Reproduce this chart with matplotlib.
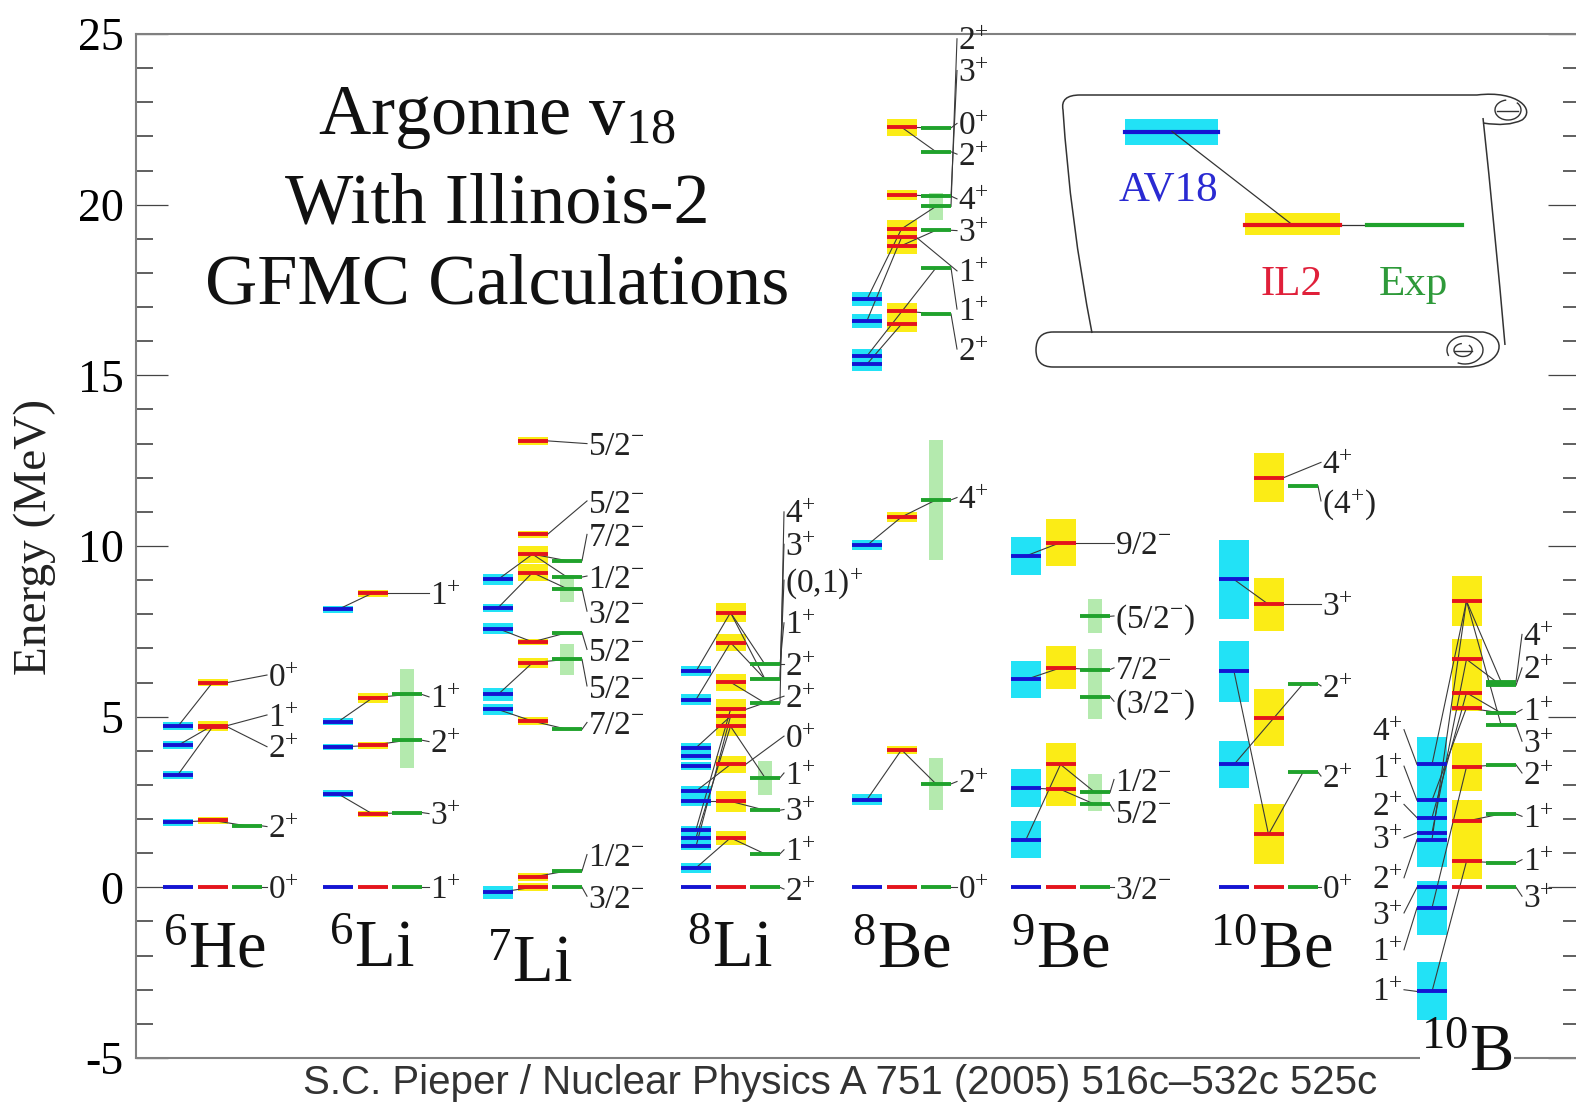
import numpy as np
import matplotlib.pyplot as plt
from matplotlib.patches import Rectangle, PathPatch, Arc
from matplotlib.path import Path
from matplotlib.ticker import MultipleLocator

plt.rcParams['font.family'] = ['Liberation Serif', 'DejaVu Serif']
plt.rcParams['mathtext.fontset'] = 'custom'
plt.rcParams['mathtext.rm'] = 'Liberation Serif'
plt.rcParams['mathtext.it'] = 'Liberation Serif:italic'
plt.rcParams['mathtext.bf'] = 'Liberation Serif:bold'
plt.rcParams['axes.unicode_minus'] = False

# ---------------- data (MeV) ----------------
# a = AV18, i = IL2, e = experiment
he6_av = [0.0, 1.91, 3.30, 4.16, 4.72]
he6_av_err = [0.0, 0.10, 0.12, 0.12, 0.12]
he6_il = [0.0, 1.96, 4.70, 4.74, 6.00]
he6_il_err = [0.0, 0.10, 0.12, 0.12, 0.10]
he6_exp = [0.0, 1.80]
he6_exp_w = [0.0, 0.0]
he6_links = [("a", 1, "i", 1), ("i", 1, "e", 1), ("a", 2, "i", 2), ("a", 3, "i", 3), ("a", 4, "i", 4)]
he6_lab = ["0$^{+}$", "1$^{+}$", "2$^{+}$", "2$^{+}$", "0$^{+}$"]
he6_lab_y = [6.22, 5.05, 4.12, 1.78, 0.0]
he6_lab_src = [("i", 4), ("i", 3), ("i", 2), ("e", 1), ("e", 0)]

li6_av = [0.0, 2.74, 4.11, 4.85, 8.14]
li6_av_err = [0.0, 0.10, 0.10, 0.10, 0.10]
li6_il = [0.0, 2.15, 4.16, 5.55, 8.62]
li6_il_err = [0.0, 0.10, 0.10, 0.15, 0.10]
li6_exp = [0.0, 2.19, 4.31, 5.65]
li6_exp_w = [0.0, 0.0, 1.6, 1.5]
li6_links = [("a", 1, "i", 1), ("i", 1, "e", 1), ("a", 2, "i", 2), ("i", 2, "e", 2),
             ("a", 3, "i", 3), ("i", 3, "e", 3), ("a", 4, "i", 4)]
li6_lab = ["1$^{+}$", "1$^{+}$", "2$^{+}$", "3$^{+}$", "1$^{+}$"]
li6_lab_y = [8.62, 5.58, 4.27, 2.16, 0.0]
li6_lab_src = [("i", 4), ("e", 3), ("e", 2), ("e", 1), ("e", 0)]

li7_av = [-0.15, 5.21, 5.65, 7.58, 8.19, 9.02]
li7_av_err = [0.20, 0.15, 0.18, 0.15, 0.12, 0.15]
li7_il = [0.0, 0.30, 4.87, 6.58, 7.19, 9.22, 9.76, 10.34, 13.08]
li7_il_err = [0.12, 0.12, 0.12, 0.15, 0.10, 0.25, 0.25, 0.10, 0.12]
li7_exp = [0.0, 0.48, 4.63, 6.68, 7.46, 8.75, 9.09, 9.57]
li7_exp_w = [0.0, 0.0, 0.0, 0.9, 0.0, 0.8, 0.0, 0.0]
li7_links = [("a", 0, "i", 0), ("i", 1, "e", 1), ("a", 1, "i", 2), ("i", 2, "e", 2),
             ("a", 2, "i", 3), ("i", 3, "e", 3), ("a", 3, "i", 4), ("i", 4, "e", 4),
             ("a", 4, "i", 5), ("a", 5, "i", 6), ("i", 5, "e", 5), ("i", 6, "e", 6),
             ("i", 6, "e", 7)]
li7_lab = ["5/2$^{-}$", "5/2$^{-}$", "7/2$^{-}$", "1/2$^{-}$", "3/2$^{-}$",
           "5/2$^{-}$", "5/2$^{-}$", "7/2$^{-}$", "1/2$^{-}$", "3/2$^{-}$"]
li7_lab_y = [13.0, 11.32, 10.34, 9.12, 8.09, 6.97, 5.90, 4.83, 0.96, -0.26]
li7_lab_src = [("i", 8), ("i", 7), ("e", 7), ("e", 6), ("e", 5), ("e", 4), ("e", 3),
               ("e", 2), ("e", 1), ("e", 0)]

li8_av = [0.0, 0.57, 1.20, 1.45, 1.69, 2.52, 2.82, 3.55, 3.84, 4.09, 5.50, 6.33]
li8_av_err = [0.0, 0.15, 0.12, 0.12, 0.12, 0.15, 0.15, 0.12, 0.12, 0.15, 0.15, 0.15]
li8_il = [0.0, 1.45, 2.52, 3.60, 4.72, 5.01, 5.21, 6.01, 7.17, 8.05]
li8_il_err = [0.0, 0.20, 0.30, 0.25, 0.30, 0.30, 0.30, 0.25, 0.25, 0.28]
li8_exp = [0.0, 0.98, 2.26, 3.21, 5.40, 6.10, 6.53]
li8_exp_w = [0.0, 0.0, 0.0, 1.0, 0.0, 0.0, 0.0]
li8_links = [("a", 1, "i", 1), ("i", 1, "e", 1), ("a", 2, "i", 5), ("a", 3, "i", 4),
             ("a", 4, "i", 6), ("a", 5, "i", 2), ("i", 2, "e", 2), ("a", 6, "i", 3),
             ("a", 9, "i", 5), ("a", 10, "i", 8), ("a", 11, "i", 9), ("i", 9, "e", 6),
             ("i", 9, "e", 5), ("i", 8, "e", 5), ("i", 7, "e", 4), ("i", 4, "e", 3)]
li8_lab = ["4$^{+}$", "3$^{+}$", "(0,1)$^{+}$", "1$^{+}$", "2$^{+}$", "2$^{+}$",
           "0$^{+}$", "1$^{+}$", "3$^{+}$", "1$^{+}$", "2$^{+}$"]
li8_lab_y = [11.0, 10.05, 9.0, 7.75, 6.53, 5.60, 4.43, 3.35, 2.28, 1.10, -0.05]
li8_lab_src = [("e", 4), ("e", 5), ("e", 5), ("e", 6), ("e", 6), ("i", 6), ("i", 3),
               ("e", 3), ("e", 2), ("e", 1), ("e", 0)]

be8_av = [0.0, 2.57, 10.02, 15.33, 15.57, 16.60, 17.23]
be8_av_err = [0.0, 0.15, 0.15, 0.20, 0.20, 0.20, 0.20]
be8_il = [0.0, 4.03, 10.85, 16.50, 16.89, 18.80, 19.04, 19.29, 20.29, 22.27]
be8_il_err = [0.0, 0.12, 0.15, 0.22, 0.22, 0.25, 0.25, 0.25, 0.15, 0.25]
be8_exp = [0.0, 3.03, 11.35, 16.80, 18.15, 19.25, 19.95, 20.25, 21.55, 22.25]
be8_exp_w = [0.0, 1.5, 3.5, 0.0, 0.0, 0.0, 0.8, 0.0, 0.0, 0.0]
be8_links = [("a", 1, "i", 1), ("i", 1, "e", 1), ("a", 2, "i", 2), ("i", 2, "e", 2),
             ("a", 3, "i", 3), ("a", 4, "e", 4), ("a", 5, "i", 6), ("a", 6, "i", 7),
             ("i", 7, "e", 6), ("i", 9, "e", 8), ("i", 9, "e", 9), ("i", 8, "e", 7),
             ("i", 5, "e", 5), ("i", 4, "e", 3)]
be8_lab = ["2$^{+}$", "3$^{+}$", "0$^{+}$", "2$^{+}$", "4$^{+}$", "3$^{+}$", "1$^{+}$",
           "1$^{+}$", "2$^{+}$", "4$^{+}$", "2$^{+}$", "0$^{+}$"]
be8_lab_y = [24.86, 23.93, 22.38, 21.48, 20.17, 19.24, 18.06, 16.94, 15.77, 11.42, 3.10, 0.0]
be8_lab_src = [("e", 6), ("e", 7), ("e", 9), ("e", 8), ("e", 7), ("e", 5), ("i", 6),
               ("e", 4), ("e", 3), ("e", 2), ("e", 1), ("e", 0)]

be9_av = [0.0, 1.40, 2.91, 6.09, 9.71]
be9_av_err = [0.0, 0.55, 0.55, 0.55, 0.55]
be9_il = [0.0, 2.87, 3.60, 6.43, 10.10]
be9_il_err = [0.0, 0.50, 0.62, 0.63, 0.70]
be9_exp = [0.0, 2.43, 2.78, 5.59, 6.38, 7.94]
be9_exp_w = [0.0, 0.0, 1.1, 1.3, 1.2, 1.0]
be9_links = [("a", 1, "i", 2), ("a", 2, "i", 1), ("i", 2, "e", 2), ("i", 1, "e", 1),
             ("a", 3, "i", 3), ("i", 3, "e", 4), ("a", 4, "i", 4)]
be9_lab = ["9/2$^{-}$", "(5/2$^{-}$)", "7/2$^{-}$", "(3/2$^{-}$)", "1/2$^{-}$",
           "5/2$^{-}$", "3/2$^{-}$"]
be9_lab_y = [10.10, 7.95, 6.43, 5.45, 3.16, 2.23, 0.0]
be9_lab_src = [("i", 4), ("e", 5), ("e", 4), ("e", 3), ("e", 2), ("e", 1), ("e", 0)]

be10_av = [0.0, 3.60, 6.33, 9.02]
be10_av_err = [0.0, 0.70, 0.90, 1.15]
be10_il = [0.0, 1.55, 4.97, 8.29, 12.00]
be10_il_err = [0.0, 0.88, 0.83, 0.78, 0.72]
be10_exp = [0.0, 3.37, 5.96, 11.76]
be10_exp_w = [0.0, 0.0, 0.0, 0.0]
be10_links = [("a", 1, "e", 2), ("a", 2, "i", 1), ("i", 1, "e", 1), ("a", 3, "i", 3)]
be10_lab = ["4$^{+}$", "(4$^{+}$)", "3$^{+}$", "2$^{+}$", "2$^{+}$", "0$^{+}$"]
be10_lab_y = [12.45, 11.32, 8.29, 5.90, 3.26, 0.0]
be10_lab_src = [("i", 4), ("e", 3), ("i", 3), ("e", 2), ("e", 1), ("e", 0)]

b10_av = [-3.05, -0.60, 0.00, 1.40, 1.60, 2.04, 2.55, 3.60]
b10_av_err = [0.85, 0.80, 0.18, 0.80, 0.60, 0.60, 0.60, 0.80]
b10_il = [0.0, 0.76, 1.94, 3.53, 5.26, 5.70, 6.68, 8.39]
b10_il_err = [0.0, 0.53, 0.63, 0.70, 0.10, 0.50, 0.60, 0.73]
b10_exp = [0.0, 0.72, 2.15, 3.59, 4.77, 5.11, 5.92, 6.03]
b10_exp_w = [0.0] * 8
b10_links = [("a", 0, "i", 1), ("a", 1, "i", 3), ("a", 3, "i", 7), ("a", 4, "i", 6),
             ("a", 5, "i", 5), ("a", 6, "i", 4), ("a", 7, "i", 7), ("i", 7, "e", 7),
             ("i", 7, "e", 4), ("i", 6, "e", 6), ("i", 5, "e", 5), ("i", 4, "e", 5),
             ("i", 3, "e", 3), ("i", 2, "e", 2), ("i", 1, "e", 1)]
b10_lab = ["4$^{+}$", "2$^{+}$", "1$^{+}$", "3$^{+}$", "2$^{+}$", "1$^{+}$", "1$^{+}$", "3$^{+}$",
           "4$^{+}$", "1$^{+}$", "2$^{+}$", "3$^{+}$", "2$^{+}$", "3$^{+}$", "1$^{+}$", "1$^{+}$"]
b10_lab_y = [7.41, 6.43, 5.21, 4.28, 3.35, 2.08, 0.81, -0.26,
             4.62, 3.55, 2.43, 1.45, 0.28, -0.75, -1.83, -3.0]
b10_lab_src = [("e", 7), ("e", 6), ("e", 5), ("e", 4), ("e", 3), ("e", 2), ("e", 1), ("e", 0),
               ("a", 7), ("a", 6), ("a", 5), ("a", 4), ("a", 3), ("a", 2), ("a", 1), ("a", 0)]

names = ["$^{6}$He", "$^{6}$Li", "$^{7}$Li", "$^{8}$Li", "$^{8}$Be", "$^{9}$Be", "$^{10}$Be", "$^{10}$B"]

# ---------------- layout ----------------
W, H = 1576, 1108
col_x = [178, 338, 498, 696, 867, 1026, 1234, 1432]     # AV18 column centre (px)
lab_x = [268, 430, 588, 785, 958, 1115, 1322, 1523]     # left edge of spin labels
name_xy = [(214, -1.86), (372, -1.86), (530, -2.27), (730, -1.86),
           (902, -1.86), (1061, -1.86), (1271, -1.86), (1467, -4.91)]
DX = 34.5
HW = 15

BLUE, CYAN = '#1414d2', '#22e2f6'
RED, YELLOW = '#e4141c', '#fbec16'
GREEN, LGREEN = '#20a22c', '#b4eaae'

fig = plt.figure(figsize=(W / 100, H / 100), dpi=100)
ax = fig.add_axes([136 / W, 50 / H, (1580 - 136) / W, (1074 - 50) / H])
ax.set_xlim(136, 1580)
ax.set_ylim(-5, 25)


def draw_nucleus(x0, lx, av, av_err, il, il_err, ex, ex_w, links, labs, laby, labsrc):
    cx = {'a': x0, 'i': x0 + DX, 'e': x0 + 2 * DX}
    lev = {'a': av, 'i': il, 'e': ex}
    for e, s in zip(av, av_err):
        if s > 0:
            ax.add_patch(Rectangle((cx['a'] - HW, e - s), 2 * HW, 2 * s, fc=CYAN, lw=0, zorder=1))
    for e, s in zip(il, il_err):
        if s > 0:
            ax.add_patch(Rectangle((cx['i'] - HW, e - s), 2 * HW, 2 * s, fc=YELLOW, lw=0, zorder=1))
    for e, w in zip(ex, ex_w):
        if w > 0:
            ax.add_patch(Rectangle((cx['e'] - 7, e - w / 2), 14, w, fc=LGREEN, lw=0, zorder=0.9))
    for c1, i1, c2, i2 in links:
        ax.plot([cx[c1], cx[c2]], [lev[c1][i1], lev[c2][i2]], color='#3a3a3a', lw=0.8, zorder=3)
    ax.hlines(av, cx['a'] - HW, cx['a'] + HW, color=BLUE, lw=2.8, zorder=4)
    ax.hlines(il, cx['i'] - HW, cx['i'] + HW, color=RED, lw=2.8, zorder=4)
    ax.hlines(ex, cx['e'] - HW, cx['e'] + HW, color=GREEN, lw=2.8, zorder=4)
    for t, y, (c, k) in zip(labs, laby, labsrc):
        y0 = lev[c][k]
        if c == 'a':
            xs, xe, tx, ha = cx['a'] - HW, 1404, 1403, 'right'
        else:
            xs, xe, tx, ha = cx[c] + HW, lx - 1, lx, 'left'
        ax.plot([xs, xe], [y0, y], color='#3a3a3a', lw=0.8, zorder=3, clip_on=False)
        ax.text(tx, y - 0.34, t, ha=ha, va='baseline', fontsize=24, color='#222222',
                zorder=5, clip_on=False)


sets = [
    (he6_av, he6_av_err, he6_il, he6_il_err, he6_exp, he6_exp_w, he6_links, he6_lab, he6_lab_y, he6_lab_src),
    (li6_av, li6_av_err, li6_il, li6_il_err, li6_exp, li6_exp_w, li6_links, li6_lab, li6_lab_y, li6_lab_src),
    (li7_av, li7_av_err, li7_il, li7_il_err, li7_exp, li7_exp_w, li7_links, li7_lab, li7_lab_y, li7_lab_src),
    (li8_av, li8_av_err, li8_il, li8_il_err, li8_exp, li8_exp_w, li8_links, li8_lab, li8_lab_y, li8_lab_src),
    (be8_av, be8_av_err, be8_il, be8_il_err, be8_exp, be8_exp_w, be8_links, be8_lab, be8_lab_y, be8_lab_src),
    (be9_av, be9_av_err, be9_il, be9_il_err, be9_exp, be9_exp_w, be9_links, be9_lab, be9_lab_y, be9_lab_src),
    (be10_av, be10_av_err, be10_il, be10_il_err, be10_exp, be10_exp_w, be10_links, be10_lab, be10_lab_y, be10_lab_src),
    (b10_av, b10_av_err, b10_il, b10_il_err, b10_exp, b10_exp_w, b10_links, b10_lab, b10_lab_y, b10_lab_src),
]
for x0, lx, s in zip(col_x, lab_x, sets):
    draw_nucleus(x0, lx, *s)

for nm, (nx, ny) in zip(names, name_xy):
    bb = dict(fc='white', ec='none', pad=1) if nm == "$^{10}$B" else None
    ax.text(nx, ny, nm, ha='center', va='center', fontsize=48, color='#111111',
            zorder=6, clip_on=False, bbox=bb)

# axes styling
ax.set_xticks([])
ax.yaxis.set_major_locator(MultipleLocator(5))
ax.yaxis.set_minor_locator(MultipleLocator(1))
ax.tick_params(axis='y', which='both', direction='in', left=True, right=True,
               color='#444444', labelsize=33, pad=9)
ax.tick_params(axis='y', which='major', length=23, width=0.9)
ax.tick_params(axis='y', which='minor', length=12, width=1.2)
for sp in ax.spines.values():
    sp.set_color('#808080')
    sp.set_linewidth(1.5)

# ---------------- overlay: titles, legend scroll ----------------
ov = fig.add_axes([0, 0, 1, 1], zorder=10)
ov.set_xlim(0, W)
ov.set_ylim(H, 0)
ov.axis('off')

ov.text(497, 134, "Argonne v$_{18}$", ha='center', va='baseline', fontsize=52, color='#111111')
ov.text(497, 223, "With Illinois-2", ha='center', va='baseline', fontsize=52, color='#111111')
ov.text(497, 303, "GFMC Calculations", ha='center', va='baseline', fontsize=52, color='#111111')
ov.text(35, 537, "Energy (MeV)", rotation=90, ha='center', va='center', fontsize=34, color='#222222')
ov.text(840, 1083, "S.C. Pieper / Nuclear Physics A 751 (2005) 516c\u2013532c 525c",
        ha='center', va='center', fontsize=29, family='Liberation Sans', color='#333333')

# scroll outline
sc = dict(fc='none', ec='#333333', lw=1.1)
M, L, C3, C4 = Path.MOVETO, Path.LINETO, Path.CURVE3, Path.CURVE4
body = Path([(1092, 333), (1070, 220), (1063, 110), (1060, 95), (1080, 95), (1477, 95),
             (1518, 90), (1536, 110), (1522, 120), (1508, 127), (1483, 123)],
            [M, C3, C3, C3, C3, L, C4, C4, C4, C3, C3])
ov.add_patch(PathPatch(body, **sc))
right = Path([(1483, 118), (1495, 230), (1505, 345)], [M, C3, C3])
ov.add_patch(PathPatch(right, **sc))
roll = Path([(1053, 332), (1483, 332), (1508, 336), (1504, 364), (1470, 367), (1053, 367),
             (1036, 367), (1036, 350), (1036, 332), (1053, 332)],
            [M, L, C4, C4, C4, L, C3, C3, C3, C3])
ov.add_patch(PathPatch(roll, **sc))
ov.add_patch(Arc((1508, 110), 26, 20, theta1=-40, theta2=260, color='#333333', lw=1.0))
ov.plot([1497, 1518], [111, 111], color='#333333', lw=1.0)
ov.add_patch(Arc((1465, 350), 36, 28, theta1=-200, theta2=120, color='#333333', lw=1.0))
ov.add_patch(Arc((1463, 350), 18, 13, theta1=-40, theta2=260, color='#333333', lw=1.0))
ov.plot([1454, 1472], [351, 351], color='#333333', lw=1.0)

# legend key
ov.add_patch(Rectangle((1125, 119), 93, 26, fc=CYAN, lw=0))
ov.plot([1125, 1218], [131.5, 131.5], color=BLUE, lw=3)
ov.add_patch(Rectangle((1245, 213), 95, 22, fc=YELLOW, lw=0))
ov.plot([1172, 1292], [131.5, 224.5], color='#333333', lw=0.9)
ov.plot([1340, 1367], [224.5, 224.5], color='#333333', lw=0.9)
ov.plot([1245, 1340], [224.5, 224.5], color=RED, lw=3)
ov.plot([1367, 1462], [224.5, 224.5], color=GREEN, lw=3)
ov.text(1168, 190, "AV18", ha='center', va='center', fontsize=31, color='#2a2ad2')
ov.text(1292, 285, "IL2", ha='center', va='center', fontsize=31, color='#e0203a')
ov.text(1413, 285, "Exp", ha='center', va='center', fontsize=31, color='#2e9a3a')

fig.savefig('out.png', dpi=100)
